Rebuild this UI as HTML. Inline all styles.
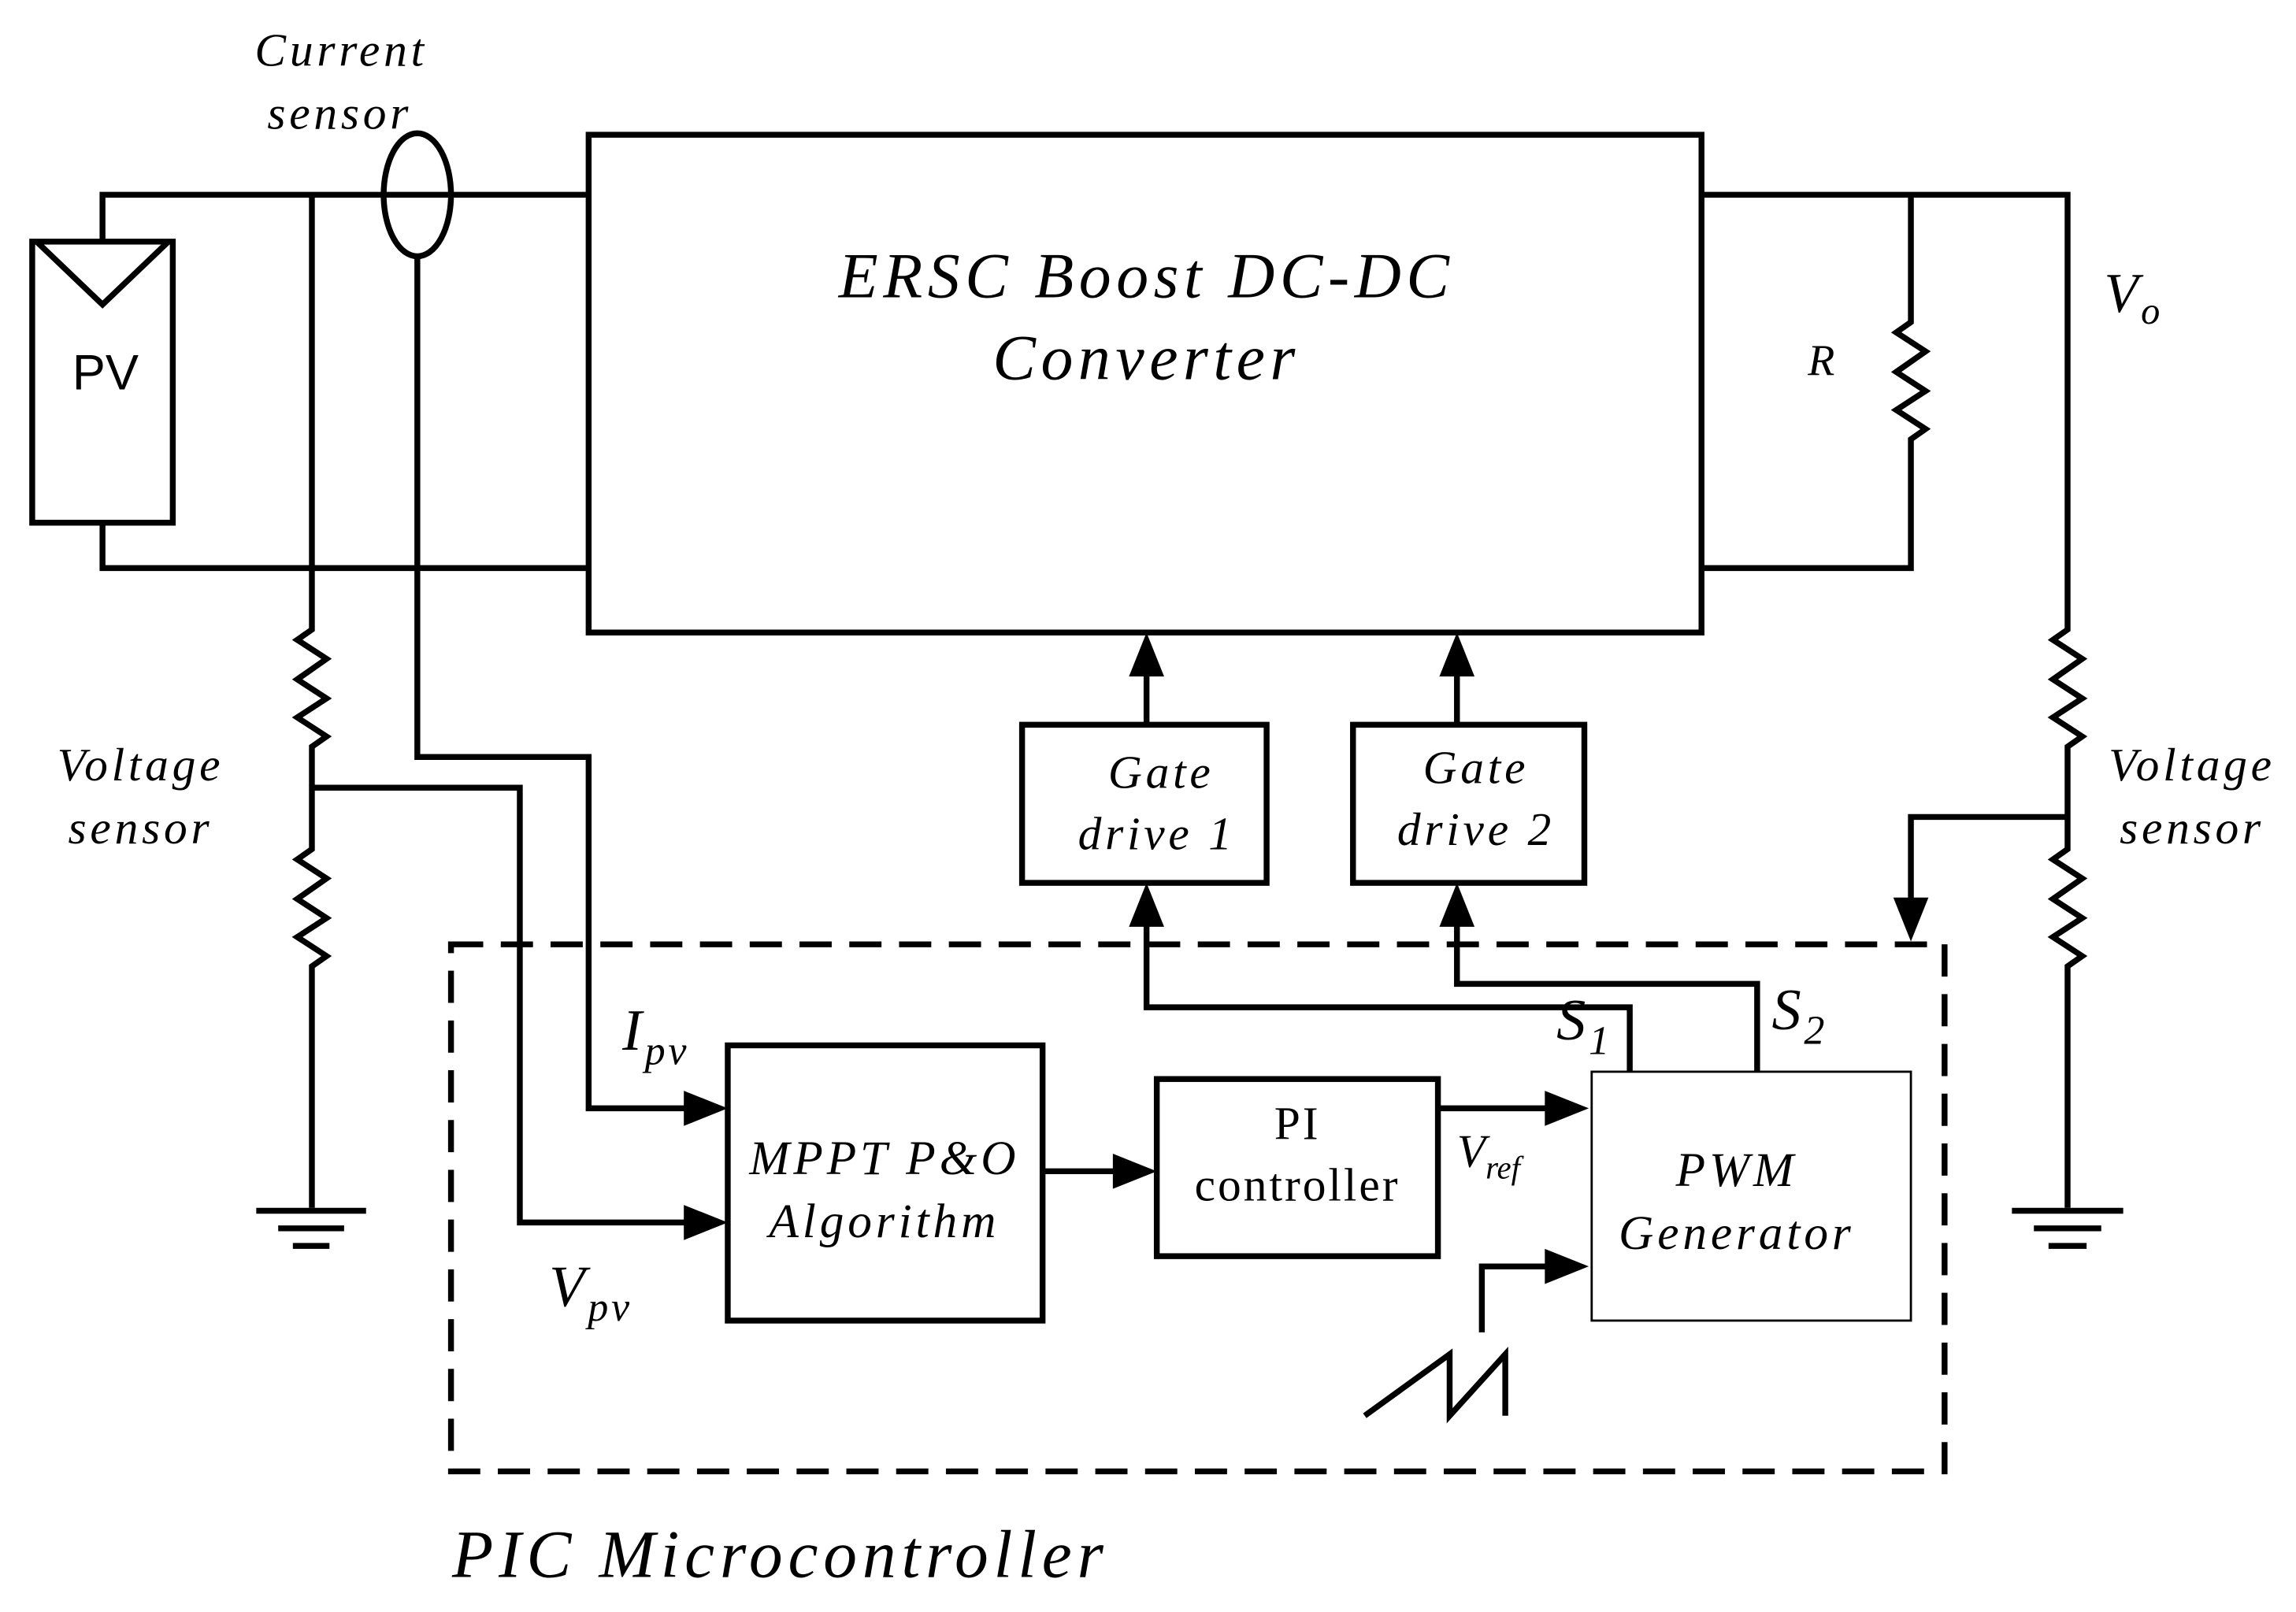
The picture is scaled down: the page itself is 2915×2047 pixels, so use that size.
<!DOCTYPE html>
<html><head><meta charset="utf-8"><style>
html,body{margin:0;padding:0;background:#fff}
svg{display:block}
.t{font-family:"Liberation Serif",serif;font-style:italic;fill:#000;letter-spacing:0.08em}
</style></head><body>
<svg width="2915" height="2047" viewBox="0 0 1568 1101" xmlns="http://www.w3.org/2000/svg">
<g fill="none" stroke="#000" stroke-width="4">
<rect x="22" y="165" width="96" height="192"/>
<polyline points="25,165 70,208 115,165"/>
<polyline points="70,165 70,133 402,133"/>
<polyline points="70,357 70,388 402,388"/>
<ellipse cx="285" cy="133" rx="23" ry="42"/>
<polyline points="213,133 213,430 203,437 223,450 203,464 223,477 203,490 223,503 213,510 213,580 203,587 223,600 203,614 223,627 203,640 223,653 213,660 213,825"/>
<line x1="175" y1="827" x2="250" y2="827"/>
<line x1="190" y1="839" x2="235" y2="839"/>
<line x1="200" y1="851" x2="225" y2="851"/>
<rect x="402" y="92" width="760" height="340"/>
<polyline points="1162,133 1412,133 1412,430 1402,437 1422,450 1402,464 1422,477 1402,490 1422,503 1412,510 1412,580 1402,587 1422,600 1402,614 1422,627 1402,640 1422,653 1412,660 1412,825"/>
<line x1="1374" y1="827" x2="1450" y2="827"/>
<line x1="1389" y1="839" x2="1435" y2="839"/>
<line x1="1399" y1="851" x2="1425" y2="851"/>
<polyline points="1305,133 1305,220 1295,227 1315,240 1295,254 1315,267 1295,280 1315,293 1305,300 1305,388 1162,388"/>
<polyline points="1412,558 1305,558 1305,625"/>
<polyline points="285,175 285,517 402,517 402,757 480,757"/>
<polyline points="213,538 355,538 355,835 480,835"/>
<rect x="497" y="714" width="215" height="188"/>
<line x1="712" y1="800" x2="772" y2="800"/>
<rect x="790" y="737" width="192" height="121"/>
<line x1="982" y1="757" x2="1068" y2="757"/>
<rect x="698" y="495" width="167" height="108"/>
<rect x="924" y="495" width="158" height="108"/>
<line x1="783" y1="495" x2="783" y2="450"/>
<line x1="995" y1="495" x2="995" y2="450"/>
<polyline points="1113,732 1113,688 783,688 783,622"/>
<polyline points="1200,732 1200,672 995,672 995,622"/>
<polyline points="932,967 990,925 990,967 1028,925 1028,967"/>
<polyline points="1012,910 1012,865 1068,865"/>
<rect x="308" y="645" width="1020" height="360" stroke-dasharray="22,12"/>
</g>
<rect x="1087" y="732" width="218" height="170" fill="none" stroke="#000" stroke-width="1.5"/>
<g fill="#000">
<polygon points="497,757 467,745 467,769"/>
<polygon points="497,835 467,823 467,847"/>
<polygon points="790,800 760,788 760,812"/>
<polygon points="1085,757 1055,745 1055,769"/>
<polygon points="1085,865 1055,853 1055,877"/>
<polygon points="783,432 771,462 795,462"/>
<polygon points="995,432 983,462 1007,462"/>
<polygon points="783,603 771,633 795,633"/>
<polygon points="995,603 983,633 1007,633"/>
<polygon points="1305,643 1293,613 1317,613"/>
</g>
<text x="72" y="266" font-family="Liberation Sans,sans-serif" font-size="34" text-anchor="middle">PV</text>
<text class="t" x="233" y="45" font-size="32" text-anchor="middle">Current</text>
<text class="t" x="232" y="88" font-size="32" text-anchor="middle">sensor</text>
<text class="t" x="96" y="533" font-size="32" text-anchor="middle">Voltage</text>
<text class="t" x="96" y="576" font-size="32" text-anchor="middle">sensor</text>
<text class="t" x="1497" y="533" font-size="32" text-anchor="middle">Voltage</text>
<text class="t" x="1497" y="576" font-size="32" text-anchor="middle">sensor</text>
<text class="t" x="783" y="203" font-size="44" text-anchor="middle">ERSC Boost DC-DC</text>
<text class="t" x="783" y="259" font-size="44" text-anchor="middle">Converter</text>
<text class="t" x="1245" y="256" font-size="30" text-anchor="middle">R</text>
<text class="t" x="1437" y="213" font-size="38" style="letter-spacing:0.05em">V<tspan font-size="26" dy="8">o</tspan></text>
<text class="t" x="793" y="538" font-size="32" text-anchor="middle">Gate</text>
<text class="t" x="790" y="580" font-size="32" text-anchor="middle">drive 1</text>
<text class="t" x="1008" y="535" font-size="32" text-anchor="middle">Gate</text>
<text class="t" x="1008" y="577" font-size="32" text-anchor="middle">drive 2</text>
<text class="t" x="604" y="802" font-size="33" text-anchor="middle">MPPT P&amp;O</text>
<text class="t" x="604" y="845" font-size="33" text-anchor="middle">Algorithm</text>
<text x="886" y="778" font-family="Liberation Serif,serif" font-size="32" text-anchor="middle" style="letter-spacing:0.05em">PI</text>
<text x="886" y="820" font-family="Liberation Serif,serif" font-size="32" text-anchor="middle" style="letter-spacing:0.05em">controller</text>
<text class="t" x="1186" y="810" font-size="33" text-anchor="middle">PWM</text>
<text class="t" x="1186" y="853" font-size="33" text-anchor="middle">Generator</text>
<text class="t" x="995" y="797" font-size="32" style="letter-spacing:0">V<tspan font-size="22" dy="8">ref</tspan></text>
<text class="t" x="425" y="717" font-size="40" style="letter-spacing:0.05em">I<tspan font-size="28" dy="10">pv</tspan></text>
<text class="t" x="375" y="892" font-size="40" style="letter-spacing:0.05em">V<tspan font-size="28" dy="10">pv</tspan></text>
<text class="t" x="1063" y="710" font-size="40" style="letter-spacing:0.05em">S<tspan font-size="28" dy="10">1</tspan></text>
<text class="t" x="1210" y="703" font-size="40" style="letter-spacing:0.05em">S<tspan font-size="28" dy="10">2</tspan></text>
<text class="t" x="533" y="1077" font-size="46" text-anchor="middle">PIC Microcontroller</text>
</svg>
</body></html>
